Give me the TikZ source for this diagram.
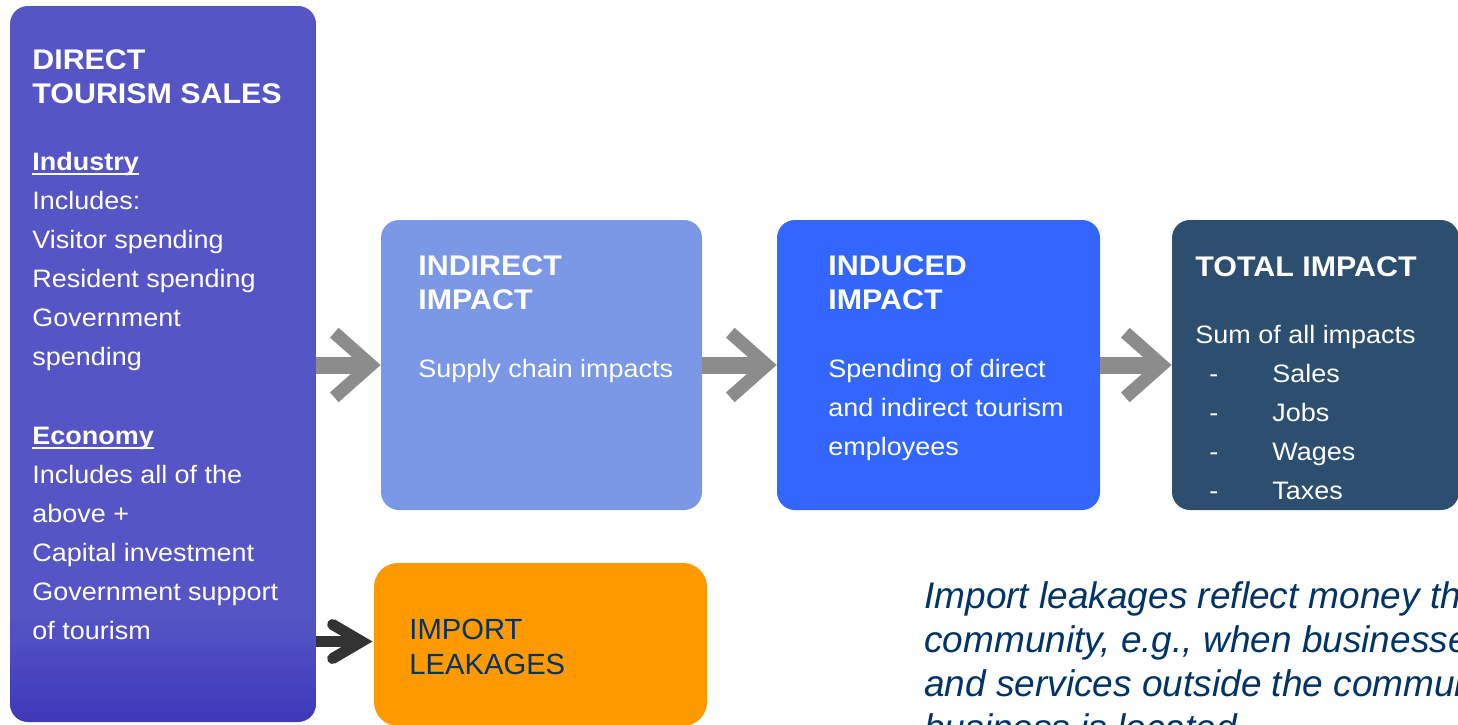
\documentclass[tikz,border=0pt]{standalone}
\usepackage{fontspec}
\setmainfont{Liberation Sans}
\newfontfamily\bodyfont{Liberation Sans}[FakeStretch=1.07]
\newfontfamily\notefont{Liberation Sans}
\usetikzlibrary{calc}

\definecolor{directtop}{HTML}{5555C5}
\definecolor{directbot}{HTML}{3F39BB}
\definecolor{indirectfill}{HTML}{7A98E6}
\definecolor{inducedfill}{HTML}{3366FF}
\definecolor{totalfill}{HTML}{2C4F70}
\definecolor{importfill}{HTML}{FF9900}
\definecolor{navytext}{HTML}{003366}
\definecolor{flowgray}{HTML}{8C8C8C}
\definecolor{leakdark}{HTML}{333333}

% bold heading word with a rule just under the descenders
\newcommand\ulword[1]{\leavevmode\setbox0\hbox{#1}\rlap{\rule[-2.6pt]{\wd0}{1.1pt}}\box0}

\newcommand\boxheadfont{\bodyfont\bfseries\fontsize{14.2pt}{17pt}\selectfont}
\newcommand\boxbodyfont{\bodyfont\fontsize{12.6pt}{19.5pt}\selectfont}

\tikzset{
  box/.style={inner sep=0pt, draw=none, rounded corners=9pt},
  txt/.style={anchor=base west, inner sep=0pt, text=white},
  flowshaft/.style={draw=flowgray, line width=8.5pt, line cap=butt},
  flowhead/.style={draw=flowgray, line width=6.5pt, line join=miter, line cap=butt},
  leakshaft/.style={draw=leakdark, line width=5.5pt, line cap=butt},
  leakhead/.style={draw=leakdark, line width=5.5pt, line join=miter, line cap=round},
  % solid column colour that darkens along the bottom, built from thin strips
  salesfill/.style={path picture={
    \fill[directtop, sharp corners]
      ($(path picture bounding box.south west)+(0,-109)$) rectangle
      (path picture bounding box.north east);
    \foreach \k in {0,...,21}{
      \pgfmathtruncatemacro\mixpct{100*\k/21}
      \fill[directbot!\mixpct!directtop, sharp corners]
        ($(path picture bounding box.south west)+(0,-110+5*\k)$) rectangle
        ($(path picture bounding box.south east)+(0,-104.5+5*\k)$);
    }}},
}

\begin{document}
\begin{tikzpicture}[x=0.5pt, y=-0.5pt]
\useasboundingbox (0,0) rectangle (1458,724);
\fill[white] (0,0) rectangle (1458,724);

% boxes
\node[box, minimum width=153pt, minimum height=358pt, salesfill]
  (direct) at (163,364) {};
\node[box, minimum width=160.5pt, minimum height=145pt, fill=indirectfill] (indirect) at (541.5,365) {};
\node[box, minimum width=161.5pt, minimum height=145pt, fill=inducedfill] (induced) at (938.5,365) {};
\node[box, minimum width=143.5pt, minimum height=145pt, fill=totalfill] (total) at (1315.5,365) {};
\node[box, minimum width=166.5pt, minimum height=81.5pt, fill=importfill, rounded corners=12pt] (import) at (540.5,644.5) {};

% direct tourism sales
\node[txt, font=\boxheadfont] (directtitle) at (32,69)
  {\parbox[t]{150pt}{\raggedright DIRECT\\TOURISM SALES}};
\node[txt, font=\boxbodyfont] (industry) at (32,170)
  {\parbox[t]{150pt}{\raggedright {\bfseries\ulword{Industry}}\\Includes:\\Visitor spending\\Resident spending\\Government\\spending}};
\node[txt, font=\boxbodyfont] (economy) at (32,444)
  {\parbox[t]{150pt}{\raggedright {\bfseries\ulword{Economy}}\\Includes all of the\\above +\\Capital investment\\Government support\\of tourism}};

% indirect impact
\node[txt, font=\boxheadfont] (indirecttitle) at (418,275)
  {\parbox[t]{150pt}{\raggedright INDIRECT\\IMPACT}};
\node[txt, font=\boxbodyfont] (indirecttext) at (418,377) {Supply chain impacts};

% induced impact
\node[txt, font=\boxheadfont] (inducedtitle) at (828,275)
  {\parbox[t]{150pt}{\raggedright INDUCED\\IMPACT}};
\node[txt, font=\boxbodyfont] (inducedtext) at (828,377)
  {\parbox[t]{150pt}{\raggedright Spending of direct\\and indirect tourism\\employees}};

% total impact
\node[txt, font=\boxheadfont] (totaltitle) at (1195,276) {TOTAL IMPACT};
\node[txt, font=\boxbodyfont] (totaltext) at (1195,343) {Sum of all impacts};
\node[txt, font=\boxbodyfont] (totaldash) at (1209,382)
  {\parbox[t]{20pt}{\raggedright -\\-\\-\\-}};
\node[txt, font=\boxbodyfont] (totalitems) at (1272,382)
  {\parbox[t]{80pt}{\raggedright Sales\\Jobs\\Wages\\Taxes}};

% import leakages
\node[txt, text=navytext, font={\fontsize{14.6pt}{17.5pt}\selectfont}] (importtext) at (409,639)
  {\parbox[t]{150pt}{\raggedright IMPORT\\LEAKAGES}};

% explanatory note
\node[txt, text=navytext, font={\notefont\itshape\fontsize{18.5pt}{22pt}\selectfont}] (note) at (924,608)
  {\parbox[t]{400pt}{\raggedright Import leakages reflect money that\\community, e.g., when businesses\\and services outside the community\\business is located.}};

% flow arrows
\coordinate (t1) at (indirect.west);
\draw[flowshaft] (direct.east |- t1) -- ($(t1)+(-12,0)$);
\draw[flowhead] ($(t1)+(-46.3,-32.3)$) -- ($(t1)+(-9.8,0)$) -- ($(t1)+(-46.3,32.3)$);

\coordinate (t2) at (induced.west);
\draw[flowshaft] (indirect.east |- t2) -- ($(t2)+(-12,0)$);
\draw[flowhead] ($(t2)+(-46.3,-32.3)$) -- ($(t2)+(-9.8,0)$) -- ($(t2)+(-46.3,32.3)$);

\coordinate (t3) at (total.west);
\draw[flowshaft] (induced.east |- t3) -- ($(t3)+(-12,0)$);
\draw[flowhead] ($(t3)+(-46.3,-32.3)$) -- ($(t3)+(-9.8,0)$) -- ($(t3)+(-46.3,32.3)$);

% leakage arrow
\coordinate (t4) at ($(import.west)+(-1,-3)$);
\draw[leakshaft] (direct.east |- t4) -- ($(t4)+(-14,0)$);
\draw[leakhead] ($(t4)+(-40,-17)$) -- ($(t4)+(-11,0)$) -- ($(t4)+(-40,17)$);
\end{tikzpicture}
\end{document}
